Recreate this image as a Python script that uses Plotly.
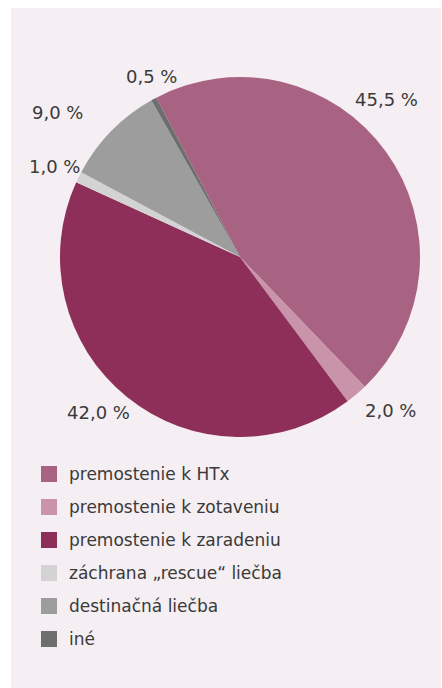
import plotly.graph_objects as go

categories = [
    "premostenie k HTx",
    "premostenie k zotaveniu",
    "premostenie k zaradeniu",
    "záchrana „rescue“ liečba",
    "destinačná liečba",
    "iné",
]
values = [45.5, 2.0, 42.0, 1.0, 9.0, 0.5]
colors = ["#a86383", "#c994aa", "#8e2f5a", "#d3d3d3", "#9d9d9d", "#6e6e6e"]

W, H = 442, 688
# label centre positions in pixels (layout only)
label_pos = [(386, 99), (390, 411), (98, 413), (54, 166), (57, 113), (151, 77)]

TXT = "#3a3a3a"
FONT = "DejaVu Sans"

fig = go.Figure()
fig.add_trace(go.Pie(
    labels=categories,
    values=values,
    sort=False,
    direction="clockwise",
    rotation=-27.7,
    marker=dict(colors=colors, line=dict(width=0)),
    textinfo="none",
    hoverinfo="label+value",
    showlegend=False,
    domain=dict(x=[60 / W, 420 / W], y=[1 - 437 / H, 1 - 77 / H]),
))

shapes = [dict(type="rect", xref="paper", yref="paper",
               x0=11 / W, x1=441 / W, y0=0, y1=1 - 8 / H,
               fillcolor="#f5eef2", line=dict(width=0), layer="below")]
annotations = []
for v, (px, py) in zip(values, label_pos):
    annotations.append(dict(
        xref="paper", yref="paper", x=px / W, y=1 - py / H,
        text=(f"{v:.1f}".replace(".", ",") + " %"),
        showarrow=False, xanchor="center", yanchor="middle",
        font=dict(family=FONT, size=18, color=TXT),
    ))

row0, step = 474, 33
for i, (cat, col) in enumerate(zip(categories, colors)):
    cy = row0 + i * step
    shapes.append(dict(type="rect", xref="paper", yref="paper",
                       x0=41 / W, x1=57 / W, y0=1 - (cy + 8) / H, y1=1 - (cy - 8) / H,
                       fillcolor=col, line=dict(width=0)))
    annotations.append(dict(
        xref="paper", yref="paper", x=67 / W, y=1 - cy / H,
        text=cat, showarrow=False, xanchor="left", yanchor="middle",
        font=dict(family=FONT, size=17, color=TXT),
    ))

fig.update_layout(
    width=W, height=H,
    margin=dict(l=0, r=0, t=0, b=0),
    paper_bgcolor="white",
    plot_bgcolor="white",
    shapes=shapes,
    annotations=annotations,
)

fig.write_html("out.html", config={"displayModeBar": False},
               post_script="document.body.style.margin='0';document.body.style.overflow='hidden';")
